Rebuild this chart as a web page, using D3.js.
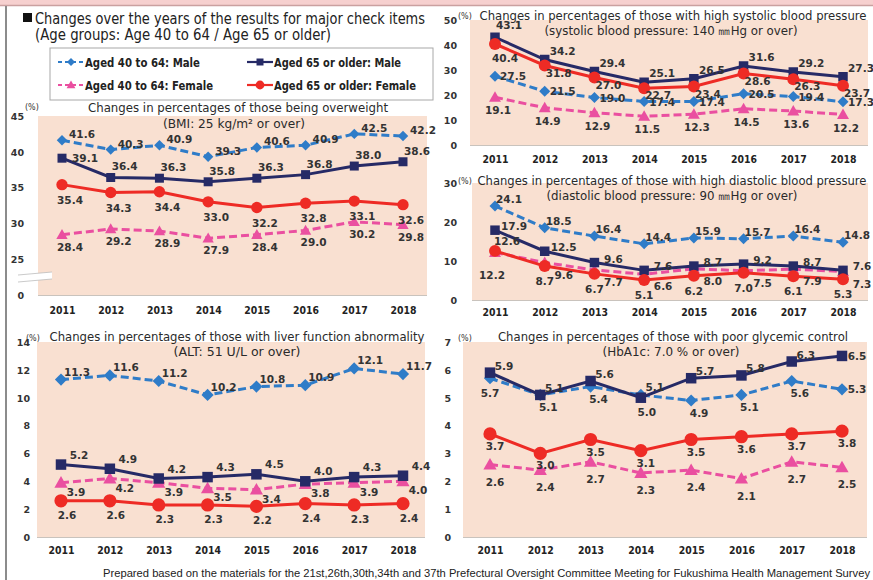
<!DOCTYPE html>
<html><head><meta charset="utf-8">
<script src="https://cdn.jsdelivr.net/npm/d3@7"></script>
<style>body{margin:0;background:#fff}svg{display:block}</style>
</head><body><svg id="c" width="873" height="580"></svg>
<script>
// ---------------- DATA ----------------
const years = [2011, 2012, 2013, 2014, 2015, 2016, 2017, 2018];
const seriesNames = ["Aged 40 to 64: Male", "Aged 65 or older: Male", "Aged 40 to 64: Female", "Aged 65 or older: Female"];

// Overweight (BMI >= 25)
const bmiMale40   = [41.6, 40.3, 40.9, 39.3, 40.6, 40.9, 42.5, 42.2];
const bmiMale65   = [39.1, 36.4, 36.3, 35.8, 36.3, 36.8, 38.0, 38.6];
const bmiFemale40 = [28.4, 29.2, 28.9, 27.9, 28.4, 29.0, 30.2, 29.8];
const bmiFemale65 = [35.4, 34.3, 34.4, 33.0, 32.2, 32.8, 33.1, 32.6];
const bmiTicks = [0, 25, 30, 35, 40, 45];

// Systolic blood pressure
const sysMale40   = [27.5, 21.5, 19.0, 17.4, 17.4, 20.5, 19.4, 17.3];
const sysMale65   = [43.1, 34.2, 29.4, 25.1, 26.5, 31.6, 29.2, 27.3];
const sysFemale40 = [19.1, 14.9, 12.9, 11.5, 12.3, 14.5, 13.6, 12.2];
const sysFemale65 = [40.4, 31.8, 27.0, 22.7, 23.4, 28.6, 26.3, 23.7];
const sysTicks = [0, 10, 20, 30, 40, 50];

// Diastolic blood pressure
const diaMale40   = [24.1, 18.5, 16.4, 14.4, 15.9, 15.7, 16.4, 14.8];
const diaMale65   = [17.9, 12.5, 9.6, 7.6, 8.7, 9.2, 8.7, 7.6];
const diaFemale40 = [12.2, 9.6, 7.7, 6.6, 8.0, 7.5, 7.9, 7.3];
const diaFemale65 = [12.6, 8.7, 6.7, 5.1, 6.2, 7.0, 6.1, 5.3];
const diaTicks = [0, 10, 20, 30];

// Liver function (ALT)
const altMale40   = [11.3, 11.6, 11.2, 10.2, 10.8, 10.9, 12.1, 11.7];
const altMale65   = [5.2, 4.9, 4.2, 4.3, 4.5, 4.0, 4.3, 4.4];
const altFemale40 = [3.9, 4.2, 3.9, 3.5, 3.4, 3.8, 3.9, 4.0];
const altFemale65 = [2.6, 2.6, 2.3, 2.3, 2.2, 2.4, 2.3, 2.4];
const altTicks = [0, 2, 4, 6, 8, 10, 12, 14];

// Glycemic control (HbA1c)
const hbaMale40   = [5.7, 5.1, 5.4, 5.1, 4.9, 5.1, 5.6, 5.3];
const hbaMale65   = [5.9, 5.1, 5.6, 5.0, 5.7, 5.8, 6.3, 6.5];
const hbaFemale40 = [2.6, 2.4, 2.7, 2.3, 2.4, 2.1, 2.7, 2.5];
const hbaFemale65 = [3.7, 3.0, 3.5, 3.1, 3.5, 3.6, 3.7, 3.8];
const hbaTicks = [0, 1, 2, 3, 4, 5, 6, 7];

// ---------------- STYLE ----------------
const COL = { m40: "#2f7cc8", m65: "#262a66", f40: "#ea4fa0", f65: "#ee2b25" };
const DASH = { m40: "8,4", m65: null, f40: "8,4", f65: null };
const SHAPE = { m40: "diamond", m65: "square", f40: "triangle", f65: "circle" };
const FONT = "'DejaVu Sans', Verdana, sans-serif";
const PLOTBG = "#f9e0d1";
const TXT = "#333";

const svg = d3.select("#c");

function squish(sel, w) {
  sel.each(function () {
    const el = this;
    el.setAttribute("textLength", w);
    el.setAttribute("lengthAdjust", "spacingAndGlyphs");
  });
  return sel;
}

function markerPath(shape, s) {
  if (shape === "diamond") { const h = 5.8 * s; return `M0,${-h}L${h},0L0,${h}L${-h},0Z`; }
  if (shape === "square") { const h = 5 * s; return `M${-h},${-h}H${h}V${h}H${-h}Z`; }
  if (shape === "triangle") { const h = 6.3 * s; return `M0,${-h}L${h},${h * 0.75}L${-h},${h * 0.75}Z`; }
  const r = 6.3 * s; return `M${r},0A${r},${r} 0 1,1 ${-r},0A${r},${r} 0 1,1 ${r},0Z`;
}

// ---------------- FRAME ----------------
svg.append("rect").attr("x", 0).attr("y", 0).attr("width", 873).attr("height", 5).attr("fill", "#f6d0cf");
svg.append("line").attr("x1", 0).attr("x2", 873).attr("y1", 5.5).attr("y2", 5.5).attr("stroke", "#caa0a0").attr("stroke-width", 1.5);
svg.append("line").attr("x1", 6).attr("x2", 6).attr("y1", 6).attr("y2", 580).attr("stroke", "#8c8c8c").attr("stroke-width", 2);

// header
svg.append("rect").attr("x", 23).attr("y", 13).attr("width", 9).attr("height", 9).attr("fill", "#111");
svg.append("text").attr("x", 35).attr("y", 24).attr("font-family", FONT).attr("font-size", 15.5).attr("fill", "#222")
  .text("Changes over the years of the results for major check items").call(squish, 390);
svg.append("text").attr("x", 35).attr("y", 40).attr("font-family", FONT).attr("font-size", 15.5).attr("fill", "#222")
  .text("(Age groups: Age 40 to 64 / Age 65 or older)").call(squish, 296);

// legend
const leg = svg.append("g");
leg.append("rect").attr("x", 50).attr("y", 48).attr("width", 383).attr("height", 52)
  .attr("fill", "#fff").attr("stroke", "#a8a8a8").attr("stroke-width", 1);
const legItems = [
  { key: "m40", name: seriesNames[0], x: 58, y: 62, w: 115 },
  { key: "m65", name: seriesNames[1], x: 247, y: 62, w: 127 },
  { key: "f40", name: seriesNames[2], x: 58, y: 85, w: 128 },
  { key: "f65", name: seriesNames[3], x: 247, y: 85, w: 142 }
];
legItems.forEach(it => {
  leg.append("line").attr("x1", it.x).attr("x2", it.x + 26).attr("y1", it.y).attr("y2", it.y)
    .attr("stroke", COL[it.key]).attr("stroke-width", 2.2).attr("stroke-dasharray", DASH[it.key] ? "4,3" : null);
  leg.append("path").attr("d", markerPath(SHAPE[it.key], 0.7)).attr("transform", `translate(${it.x + 13},${it.y})`).attr("fill", COL[it.key]);
  leg.append("text").attr("x", it.x + 27).attr("y", it.y + 4.5).attr("font-family", FONT).attr("font-weight", "bold")
    .attr("font-size", 12).attr("fill", "#222").text(it.name).call(squish, it.w);
});

// ---------------- PANELS ----------------
const panels = [
  {
    title: "Changes in percentages of those being overweight", tW: 300, tX: 238, tY: 112,
    sub: "(BMI: 25 kg/m\u00b2 or over)", sW: 142, sX: 234, sY: 128,
    rx0: 38, rx1: 427, yDom: [0, 25, 45], yRan: [295, 259, 116], ticks: bmiTicks, tickX: 24,
    xr: [62, 403], yearY: 315, pctX: 25, pctY: 110, ms: 0.9, brk: true,
    data: { m40: bmiMale40, m65: bmiMale65, f40: bmiFemale40, f65: bmiFemale65 },
    lab: { m40: [20, -6], m65: [14, -11], f40: [8, 12], f65: [8, 15] },
    over: { "m65-0": [23, 0] }
  },
  {
    title: "Changes in percentages of those with high systolic blood pressure", tW: 387, tX: 673, tY: 20,
    sub: "(systolic blood pressure: 140 \u339cHg or over)", sW: 253, sX: 671, sY: 35,
    rx0: 470, rx1: 868, yDom: [0, 50], yRan: [145, 20], ticks: sysTicks, tickX: 457,
    xr: [495, 843], yearY: 164, pctX: 458, pctY: 19, ms: 0.95,
    data: { m40: sysMale40, m65: sysMale65, f40: sysFemale40, f65: sysFemale65 },
    lab: { m40: [18, 0], m65: [18, -9], f40: [3, 13], f65: [14, 7] },
    over: { "m65-0": [14, -12], "f65-0": [10, 14] }
  },
  {
    title: "Changes in percentages of those with high diastolic blood pressure", tW: 389, tX: 672, tY: 185,
    sub: "(diastolic blood pressure: 90 \u339cHg or over)", sW: 251, sX: 672, sY: 200,
    rx0: 472, rx1: 868, yDom: [0, 30], yRan: [300, 183], ticks: diaTicks, tickX: 457,
    xr: [495, 843], yearY: 317, pctX: 458, pctY: 184, ms: 0.95,
    data: { m40: diaMale40, m65: diaMale65, f40: diaFemale40, f65: diaFemale65 },
    lab: { m40: [14, -7], m65: [19, -4], f40: [19, 12], f65: [0, 15] },
    over: { "f65-0": [12, -10], "f40-0": [-3, 23] }
  },
  {
    title: "Changes in percentages of those with liver function abnormality", tW: 375, tX: 237, tY: 341,
    sub: "(ALT: 51 U/L or over)", sW: 127, sX: 237, sY: 356,
    rx0: 37, rx1: 425, yDom: [0, 14], yRan: [537, 342], ticks: altTicks, tickX: 30,
    xr: [61, 403], yearY: 555, pctX: 26, pctY: 341, ms: 1.05,
    data: { m40: altMale40, m65: altMale65, f40: altFemale40, f65: altFemale65 },
    lab: { m40: [16, -8], m65: [18, -10], f40: [15, 9], f65: [6, 14] },
    over: {}
  },
  {
    title: "Changes in percentages of those with poor glycemic control", tW: 350, tX: 673, tY: 341,
    sub: "(HbA1c: 7.0 % or over)", sW: 137, sX: 671, sY: 356,
    rx0: 463, rx1: 867, yDom: [0, 7], yRan: [537, 342], ticks: hbaTicks, tickX: 451,
    xr: [490, 842], yearY: 555, pctX: 458, pctY: 341, ms: 1.05,
    data: { m40: hbaMale40, m65: hbaMale65, f40: hbaFemale40, f65: hbaFemale65 },
    lab: { m40: [8, 12], m65: [14, -7], f40: [5, 17], f65: [5, 12] },
    over: { "m40-0": [0, 15], "m65-7": [15, 0], "m40-7": [15, 0], "m40-3": [14, -8], "m65-3": [6, 14] }
  }
];

const drawOrder = ["f40", "m40", "m65", "f65"];

panels.forEach(p => {
  const g = svg.append("g");
  const x = d3.scalePoint().domain(years).range(p.xr);
  const y = d3.scaleLinear().domain(p.yDom).range(p.yRan);
  const yTop = p.yRan[p.yRan.length - 1], yBot = p.yRan[0];

  g.append("rect").attr("x", p.rx0).attr("y", yTop).attr("width", p.rx1 - p.rx0).attr("height", yBot - yTop).attr("fill", PLOTBG);
  g.append("line").attr("x1", p.rx0).attr("x2", p.rx1).attr("y1", yBot + 0.5).attr("y2", yBot + 0.5).attr("stroke", "#c9c3bd").attr("stroke-width", 1);

  // y axis (labels only)
  const ya = d3.axisLeft(y).tickValues(p.ticks).tickSize(0).tickPadding(0).tickFormat(d3.format("d"));
  const yg = g.append("g").attr("transform", `translate(${p.tickX},0)`).call(ya);
  yg.select(".domain").remove();
  yg.selectAll("text").attr("font-family", FONT).attr("font-weight", "bold").attr("font-size", 9.5).attr("fill", TXT).attr("dy", "0.35em");

  // x axis labels
  const xa = d3.axisBottom(x).tickSize(0).tickPadding(0).tickFormat(d3.format("d"));
  const xg = g.append("g").attr("transform", `translate(0,${p.yearY - 8})`).call(xa);
  xg.select(".domain").remove();
  xg.selectAll("text").attr("font-family", FONT).attr("font-weight", "bold").attr("font-size", 10.5).attr("fill", "#222").attr("dy", "0.71em")
    .call(squish, 26);

  // (%)
  g.append("text").attr("x", p.pctX).attr("y", p.pctY).attr("font-family", FONT).attr("font-size", 8).attr("fill", TXT).text("(%)");

  // axis break
  if (p.brk) {
    const by = 277;
    g.append("path").attr("d", `M18,${by - 2}L52,${by - 5}L52,${by + 2}L18,${by + 5}Z`).attr("fill", "#fff");
    g.append("path").attr("d", `M18,${by - 2}L52,${by - 5}M18,${by + 5}L52,${by + 2}`).attr("stroke", "#bdbdbd").attr("stroke-width", 0.8).attr("fill", "none");
  }

  // titles
  g.append("text").attr("x", p.tX).attr("y", p.tY).attr("text-anchor", "middle").attr("font-family", FONT).attr("font-size", 12.5).attr("fill", "#2a2a2a")
    .text(p.title).call(squish, p.tW);
  g.append("text").attr("x", p.sX).attr("y", p.sY).attr("text-anchor", "middle").attr("font-family", FONT).attr("font-size", 12.5).attr("fill", "#2a2a2a")
    .text(p.sub).call(squish, p.sW);

  // lines + markers
  const line = d3.line().x((d, i) => x(years[i])).y(d => y(d));
  drawOrder.forEach(k => {
    const vals = p.data[k];
    g.append("path").datum(vals).attr("d", line).attr("fill", "none").attr("stroke", COL[k]).attr("stroke-width", 3)
      .attr("stroke-dasharray", DASH[k]);
    g.selectAll(null).data(vals).join("path")
      .attr("d", markerPath(SHAPE[k], p.ms))
      .attr("transform", (d, i) => `translate(${x(years[i])},${y(d)})`)
      .attr("fill", COL[k]);
  });

  // data labels
  drawOrder.forEach(k => {
    const vals = p.data[k];
    g.selectAll(null).data(vals).join("text")
      .attr("x", (d, i) => x(years[i]) + (p.over[k + "-" + i] || p.lab[k])[0])
      .attr("y", (d, i) => y(d) + (p.over[k + "-" + i] || p.lab[k])[1] + 4)
      .attr("text-anchor", "middle").attr("font-family", FONT).attr("font-weight", "bold").attr("font-size", 10.5).attr("fill", TXT)
      .text(d => d3.format(".1f")(d));
  });
});

// footer
svg.append("text").attr("x", 103).attr("y", 577).attr("font-family", "'Liberation Sans', Arial, sans-serif").attr("font-size", 11).attr("fill", "#222")
  .text("Prepared based on the materials for the 21st,26th,30th,34th and 37th Prefectural Oversight Committee Meeting for Fukushima Health Management Survey")
  .call(squish, 767);
</script>
</body></html>
